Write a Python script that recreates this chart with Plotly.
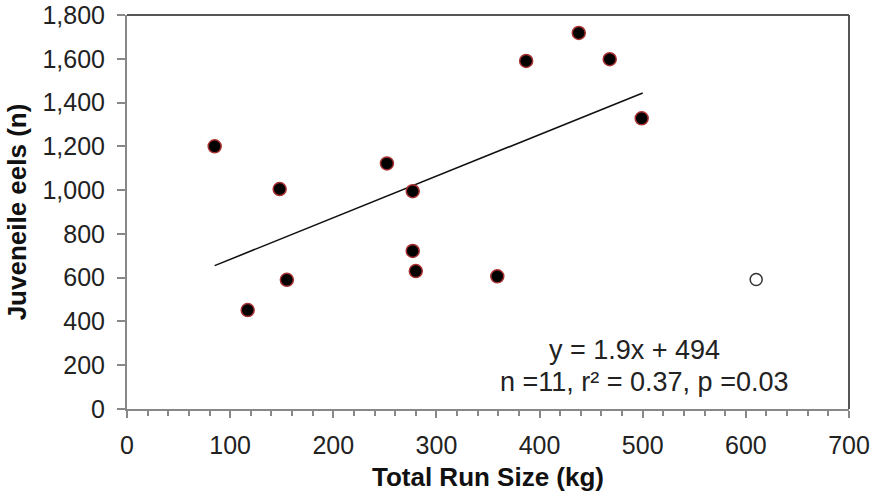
import plotly.graph_objects as go

run_size = [85, 148, 117, 155, 252, 277, 277, 280, 359, 387, 438, 468, 499]
eels = [1200, 1005, 452, 590, 1122, 995, 722, 630, 606, 1590, 1718, 1598, 1328]
outlier_x = [610]
outlier_y = [592]
trend_x = [85, 500]
trend_y = [655, 1444]

FONT = "Liberation Sans, Arial, sans-serif"

fig = go.Figure()
fig.add_trace(go.Scatter(x=trend_x, y=trend_y, mode="lines",
                         line=dict(color="#111111", width=1.6), showlegend=False))
fig.add_trace(go.Scatter(x=run_size, y=eels, mode="markers",
                         marker=dict(size=13, color="black",
                                     line=dict(color="#a83232", width=1.5)),
                         showlegend=False))
fig.add_trace(go.Scatter(x=outlier_x, y=outlier_y, mode="markers",
                         marker=dict(size=12, color="white",
                                     line=dict(color="#333333", width=1.5)),
                         showlegend=False))

fig.add_annotation(x=492, y=270, xref="x", yref="y", text="y = 1.9x + 494",
                   showarrow=False, font=dict(family=FONT, size=27, color="#222222"))
fig.add_annotation(x=501, y=124, xref="x", yref="y", text="n =11, r² = 0.37, p =0.03",
                   showarrow=False, font=dict(family=FONT, size=27, color="#222222"))

# top and right frame
fig.add_shape(type="line", xref="paper", yref="paper", x0=0, x1=1, y0=1, y1=1,
              line=dict(color="#555555", width=2))
fig.add_shape(type="line", xref="paper", yref="paper", x0=1, x1=1, y0=0, y1=1,
              line=dict(color="#555555", width=2))

fig.update_xaxes(range=[0, 700], dtick=100, tick0=0, automargin=False,
                 showgrid=False, zeroline=False,
                 showline=True, linecolor="#888888", linewidth=2,
                 ticks="outside", ticklen=7, tickwidth=2, tickcolor="#888888",
                 minor=dict(dtick=20, ticks="outside", ticklen=5, tickwidth=1.5,
                            tickcolor="#888888", showgrid=False),
                 ticklabelstandoff=6,
                 tickfont=dict(family=FONT, size=25, color="#222222"),
                 title=dict(text="<b>Total Run Size (kg)</b>", standoff=10,
                            font=dict(family=FONT, size=26, color="#111111")))
fig.update_yaxes(range=[0, 1800], dtick=200, tick0=0, tickformat=",d", automargin=False,
                 showgrid=False, zeroline=False,
                 showline=True, linecolor="#888888", linewidth=2,
                 ticks="outside", ticklen=8, tickwidth=2, tickcolor="#888888",
                 ticklabelstandoff=7,
                 tickfont=dict(family=FONT, size=25, color="#222222"),
                 title=dict(text="<b>Juveneile eels (n)</b>", standoff=8,
                            font=dict(family=FONT, size=26, color="#111111")))

fig.update_layout(width=876, height=499,
                  margin=dict(l=127, r=27, t=15, b=90),
                  plot_bgcolor="white", paper_bgcolor="white")

fig.write_html("out.html")
